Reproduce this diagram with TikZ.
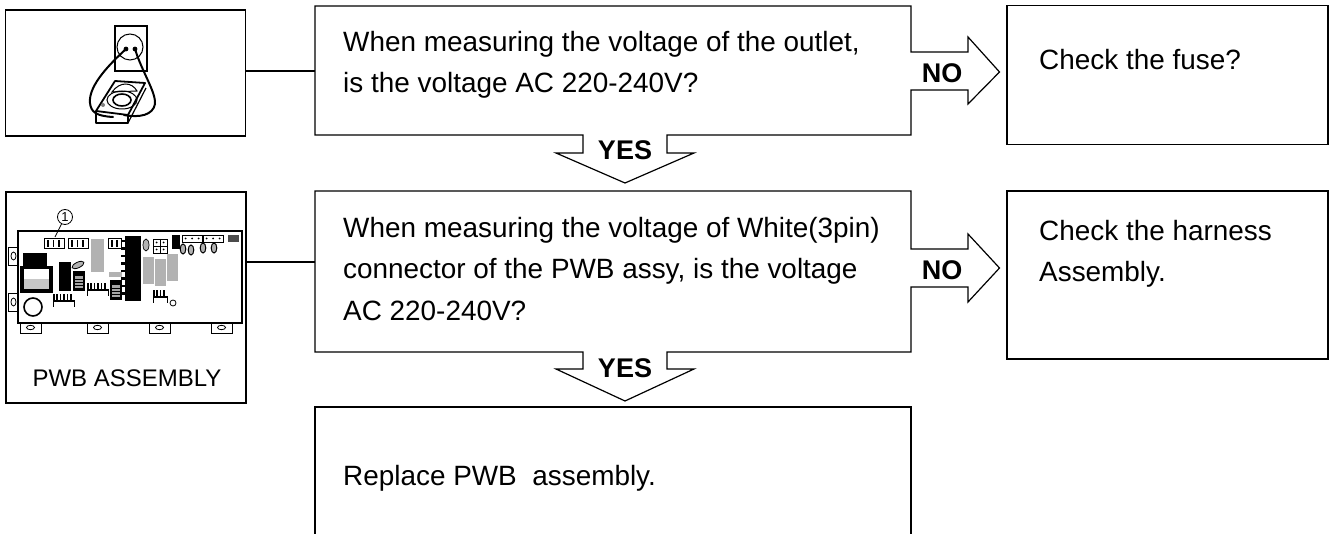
\documentclass[tikz,border=0pt]{standalone}
\usepackage{fontspec}
\setmainfont{Liberation Sans}
\newcommand{\heatfin}[3]{% x, y of the bar's left end, number of fins
  \fill (#1,#2) rectangle ++(#3*3.4+1.6,2.2);
  \foreach \k in {1,...,#3} {\fill (#1+\k*3.4-3.4,#2-6) rectangle ++(1.6,6.5);}
  \draw[line width=1.1pt] (#1+0.5,#2+1) -- ++(0,6) (#1+#3*3.4+1.1,#2+1) -- ++(0,6);
}
\newcommand{\stripechip}[2]{% x, y of the upper left corner
  \fill (#1,#2) rectangle ++(12,20);
  \fill[gray!70] (#1+2,#2+5) rectangle ++(8,12);
  \foreach \k in {1,...,3} {\fill (#1+2,#2+5+\k*3) rectangle ++(8,1);}
}
\begin{document}
\begin{tikzpicture}[x=1pt, y=-1pt,
  blk/.style={draw, line width=1.2pt, rectangle, inner sep=0pt, outer sep=0pt},
  qbox/.style={rectangle, inner sep=0pt, outer sep=0pt, minimum width=596pt},
  txt/.style={anchor=west, align=left, inner sep=0pt, font=\fontsize{27.9}{41.5}\selectfont},
  ans/.style={inner sep=0pt, font=\fontsize{27}{27}\selectfont\bfseries},
  outl/.style={line width=1.2pt},
  pin/.style={draw, fill=white, line width=0.8pt},
  gry/.style={fill=black!30}
]
\useasboundingbox (0,0) rectangle (1329,534);

% picture boxes
\node[blk, minimum width=240pt, minimum height=126pt] (meter) at (125.5,73) {};
\node[blk, minimum width=240pt, minimum height=211pt] (pwb)   at (126,297.5) {};
% question boxes, outlines below
\node[qbox, minimum height=129pt] (q1) at (613,71) {};
\node[qbox, minimum height=161pt] (q2) at (613,271.5) {};
\coordinate (q2in) at (315,262);
% result boxes
\node[blk, minimum width=321pt, minimum height=139pt] (fuse)    at (1167.5,75)  {};
\node[blk, minimum width=321pt, minimum height=168pt] (harness) at (1167.5,275) {};

\draw[outl] (meter.east |- q1) -- (q1);
\draw[outl] (pwb.east |- q2in) -- (q2in);

% box outlines with the NO / YES arrows in them
\draw[outl, line join=miter] (911,52) -- (911,6) -- (315,6) -- (315,135) -- (583,135) -- (583,153)
  -- (556,153) -- (625,183) -- (694,153) -- (667,153) -- (667,135) -- (911,135) -- (911,90)
  -- (968,90) -- (968,104) -- (999.5,72) -- (968,37) -- (968,52) -- cycle;
\draw[outl, line join=miter] (911,249) -- (911,191) -- (315,191) -- (315,352) -- (583,352) -- (583,369)
  -- (556,369) -- (625,401) -- (694,369) -- (667,369) -- (667,352) -- (911,352) -- (911,287)
  -- (968,287) -- (968,302) -- (999.5,268) -- (968,234) -- (968,249) -- cycle;
\draw[outl] (315,534) -- (315,407) -- (911,407) -- (911,534);

% texts
\node[txt] (q1t) at (343,65) {When measuring the voltage of the outlet,\\is the voltage AC 220-240V?};
\node[txt] (q2t) at (343,269) {When measuring the voltage of White(3pin)\\connector of the PWB assy, is the voltage\\AC 220-240V?};
\node[txt] (q3t) at (343,478) {Replace PWB\ \ assembly.};
\node[txt] (fuset) at (1039,60) {Check the fuse?};
\node[txt] (harnesst) at (1039,254) {Check the harness\\Assembly.};
\node[ans] (no1)  at (942,73)  {NO};
\node[ans] (no2)  at (942,270) {NO};
\node[ans] (yes1) at (625,150) {YES};
\node[ans] (yes2) at (625,368) {YES};
\node[inner sep=0pt, font=\fontsize{24}{24}\selectfont] (pwbt) at (127,378) {PWB ASSEMBLY};

% outlet and tester
\draw[line width=1.8pt] (115,26) rectangle (147,71);
\draw[line width=1pt] (130,47) circle (13);
\fill (126,49) circle (2.4) (135,49) circle (2.4);
\fill[white] (115,81) -- (145,83) -- (128,123) -- (96,123) -- (96,112) -- cycle;
\draw[line width=1.8pt, line join=round] (115,81) -- (145,83) -- (128,115) -- (96,111) -- cycle;
\draw[line width=1.8pt, line join=round] (96,111) -- (96,123) -- (128,123) -- (128,115);
\draw[line width=1.2pt] (128,123) -- (146,88);
\draw[line width=1pt] (112,92) .. controls (120,81) and (132,82) .. (137,91) -- cycle;
\draw[line width=1pt] (122,100) ellipse (15 and 9);
\draw[line width=1.6pt] (122,100) ellipse (9 and 6);
\fill[gray] (103,105) circle (2);
\draw[line width=2pt, line cap=round] (126,49) .. controls (112,62) and (88,85) .. (90,103)
  .. controls (91,112) and (96,116) .. (113,117);
\draw[line width=2pt, line cap=round] (135,49) .. controls (142,72) and (156,92) .. (155,104)
  .. controls (153,115) and (140,118) .. (124,115);

% board
\foreach \y in {247,293} {
  \draw[line width=0.9pt] (8,\y) rectangle (18,\y+18.5);
  \draw[line width=0.8pt] (13.5,\y+9) ellipse (2.5 and 4);
}
\foreach \x in {20,87,149,211} {
  \draw[line width=0.9pt] (\x,323) rectangle (\x+21,333);
  \draw[line width=0.8pt] (\x+10.5,327.5) ellipse (4 and 2.2);
}
\draw[line width=1.2pt] (18,231) rectangle (242,323);
% connectors, upper row
\node[draw, circle, line width=0.8pt, inner sep=0pt, minimum size=15pt, font=\fontsize{13}{13}\selectfont] (pin1) at (65,217) {1};
\draw[line width=0.8pt] (pin1) -- (55,237);
\foreach \x in {44,68} {
  \draw[line width=0.9pt] (\x,238) rectangle (\x+20,248);
  \foreach \k in {1,2,3} {\draw[line width=1.4pt] (\x-1.5+\k*5.5,240) -- ++(0,7);}
}
\draw[line width=0.9pt] (108,238) rectangle (121,248);
\draw[line width=1.4pt] (112,240) -- (112,247) (117,240) -- (117,247);
\fill[gry] (91,239) rectangle (104,272);
\fill[gry] (109,272) rectangle (122,277);
\fill (125,236) rectangle (141,301);
\foreach \y in {240,247.5,...,296} {\fill (121,\y) rectangle (125,\y+2.5);}
\draw[gry, draw=black, line width=0.7pt] (146,245) ellipse (3 and 6);
\draw[line width=0.9pt] (153,239) rectangle (167,253) (160,239) -- (160,253) (153,246) -- (167,246);
\foreach \x in {156.5,163.5} {\foreach \y in {242.5,249.5} {\fill (\x,\y) circle (1);}}
\fill (172,235) rectangle (180,249);
\foreach \x in {182,203} {
  \draw[line width=0.9pt] (\x,235) rectangle (\x+20,242);
  \foreach \k in {0,1,2} {\fill (\x+3.5+\k*6.5,238.5) circle (1);}
}
\fill[black!70] (228,235) rectangle (239,242);
\foreach \x/\y in {183/249,191/250,203/248,214/248} {\draw[gry, draw=black, line width=1pt] (\x,\y) ellipse (2.8 and 5);}
\fill[gry] (143,257) rectangle (154,284);
\fill[gry] (155,259) rectangle (166,286);
\fill[gry] (167,254) rectangle (178,281);
\heatfin{153}{296}{4}
\draw[line width=0.8pt] (173,303) circle (3);
% transformer side
\fill (23,253) rectangle (47,267);
\fill (20,266) rectangle (53,293);
\fill[white] (24,269) rectangle (49,279);
\fill[black!22] (24,279) rectangle (49,289);
\draw[line width=1.6pt] (33,307) circle (9);
\fill (59,262) rectangle (71,291);
\draw[gry, draw=black, line width=0.8pt, rotate around={25:(78,265)}] (78,265) ellipse (6.5 and 2.8);
\stripechip{73}{271}
\stripechip{110}{280}
\heatfin{87}{289}{6}
\heatfin{53}{300}{6}
\end{tikzpicture}
\end{document}
